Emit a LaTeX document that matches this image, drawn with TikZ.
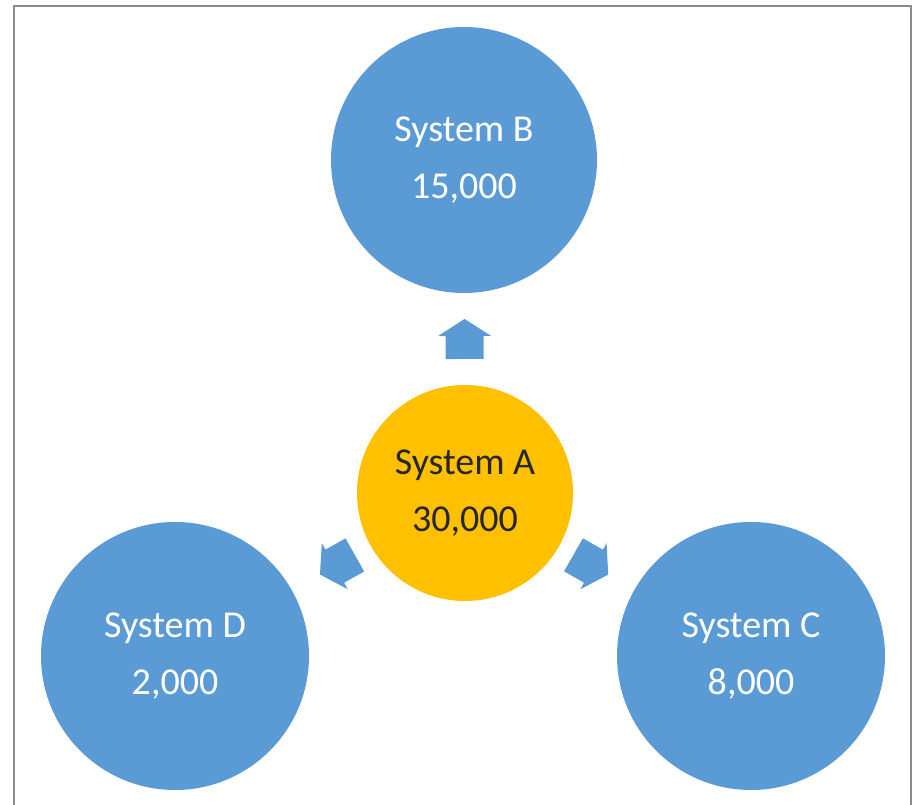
\documentclass[tikz,border=0pt]{standalone}
\usepackage{fontspec}
\setmainfont{Carlito}
\usetikzlibrary{calc}
\definecolor{sysblue}{RGB}{91,155,213}
\definecolor{sysgold}{RGB}{255,192,0}
\definecolor{framegray}{RGB}{140,140,140}
\definecolor{darktext}{RGB}{38,38,38}
\tikzset{
  sysnode/.style={circle, fill=sysblue, draw=none, text=white, minimum size=268pt,
    inner sep=0pt, align=center, font=\fontsize{38}{57}\selectfont},
  hubnode/.style={sysnode, fill=sysgold, text=darktext, minimum size=216pt},
  blockarrow/.pic={\fill[sysblue] (-20,-19) -- (3,-19) -- (3,-26.5) -- (20,0) -- (3,26.5) -- (3,19) -- (-20,19) -- cycle;}
}
\begin{document}
\begin{tikzpicture}[x=1pt,y=1pt]
\useasboundingbox (0,0) rectangle (913,805);
\fill[white] (0,0) rectangle (913,805);
\draw[framegray, line width=2pt] (14,-5) -- (14,799) -- (911,799) -- (911,-5);

\node[hubnode] (A) at (465,312) {System A\\30,000};
\node[sysnode, minimum size=266pt] (B) at (464,645) {System B\\15,000};
\node[sysnode] (D) at (175,149) {System D\\2,000};
\node[sysnode] (C) at (751,149) {System C\\8,000};

\path let \p1=($(B)-(A)$), \n1={atan2(\y1,\x1)} in ($(A)!0.4625!(B)$) pic[rotate=\n1] {blockarrow};
\path let \p1=($(D)-(A)$), \n1={atan2(\y1,\x1)} in ($(A)!0.44!(D)$) pic[rotate=\n1] {blockarrow};
\path let \p1=($(C)-(A)$), \n1={atan2(\y1,\x1)} in ($(A)!0.44!(C)$) pic[rotate=\n1] {blockarrow};
\end{tikzpicture}
\end{document}
